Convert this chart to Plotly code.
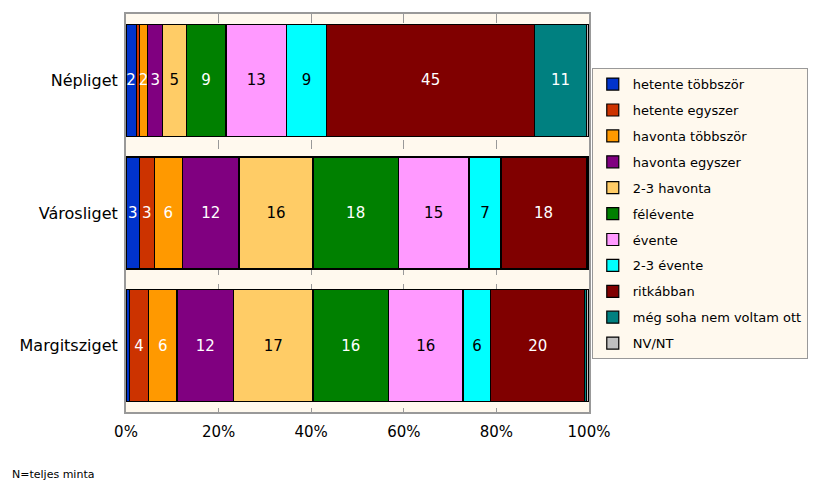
import plotly.graph_objects as go

# categories (top to bottom)
places = ['Népliget', 'Városliget', 'Margitsziget']

# answer options, in stacking order
series = ['hetente többször', 'hetente egyszer', 'havonta többször', 'havonta egyszer',
          '2-3 havonta', 'félévente', 'évente', '2-3 évente', 'ritkábban',
          'még soha nem voltam ott', 'NV/NT']

# percent values per place, same order as series
nepliget = [2.2, 0.7, 1.8, 3.2, 5.1, 8.6, 13.1, 8.6, 45.0, 11.1, 0.6]
varosliget = [2.9, 3.2, 6.1, 12.2, 16.0, 18.4, 15.3, 6.9, 18.4, 0.2, 0.4]
margitsziget = [0.7, 4.2, 6.1, 12.2, 17.2, 16.3, 16.1, 6.0, 20.3, 0.3, 0.6]

colors = ['#0033CC', '#CC3300', '#FF9900', '#800080', '#FFCC66', '#008000',
          '#FF99FF', '#00FFFF', '#800000', '#008080', '#C0C0C0']
txt_colors = ['white', 'white', 'white', 'white', 'black', 'white',
              'black', 'black', 'white', 'white', 'black']

fnt = 'DejaVu Sans'
bg = '#FFF9EE'

fig = go.Figure()
for i, name in enumerate(series):
    vals = [nepliget[i], varosliget[i], margitsziget[i]]
    labels = [str(int(round(v))) if v >= 1.5 else '' for v in vals]
    fig.add_trace(go.Bar(
        y=places, x=vals, name=name, orientation='h',
        marker=dict(color=colors[i], line=dict(color='black', width=1.2)),
        text=labels, textposition='inside', insidetextanchor='middle',
        textangle=0, textfont=dict(color=txt_colors[i], size=15, family=fnt),
        legendgroup=name, hoverinfo='x+name',
    ))

# the page body has an 8px margin, so the paper sits 8px right/down
fig.update_layout(
    width=818, height=482,
    barmode='stack', bargap=0.155,
    plot_bgcolor=bg, paper_bgcolor='white',
    margin=dict(l=118, r=237, t=6, b=78, autoexpand=False),
    uniformtext=dict(mode='show', minsize=15),
    font=dict(family=fnt, size=15, color='black'),
    legend=dict(
        x=1.006, y=0.864, xanchor='left', yanchor='top',
        bgcolor=bg, bordercolor='#999999', borderwidth=1,
        traceorder='grouped', tracegroupgap=6,
        font=dict(family=fnt, size=13),
    ),
    showlegend=True,
)

fig.update_xaxes(
    range=[0, 100], dtick=20, ticksuffix='%',
    showgrid=True, gridcolor='#999999', griddash='dash', gridwidth=1,
    showline=True, linecolor='#999999', linewidth=2, mirror='ticks',
    ticks='inside', ticklen=4, tickcolor='#999999',
    zeroline=False, ticklabelstandoff=5,
    tickfont=dict(family=fnt, size=15),
)
fig.update_yaxes(
    categoryorder='array', categoryarray=places, autorange='reversed',
    showline=True, linecolor='#999999', linewidth=2, mirror=True,
    ticks='', ticklabelstandoff=3,
    tickfont=dict(family=fnt, size=16),
)

fig.add_annotation(
    text='N=teljes minta', xref='paper', yref='paper',
    x=-0.25, y=-0.158, xanchor='left', yanchor='middle',
    showarrow=False, font=dict(family=fnt, size=11),
)

fig.write_html('out.html')
